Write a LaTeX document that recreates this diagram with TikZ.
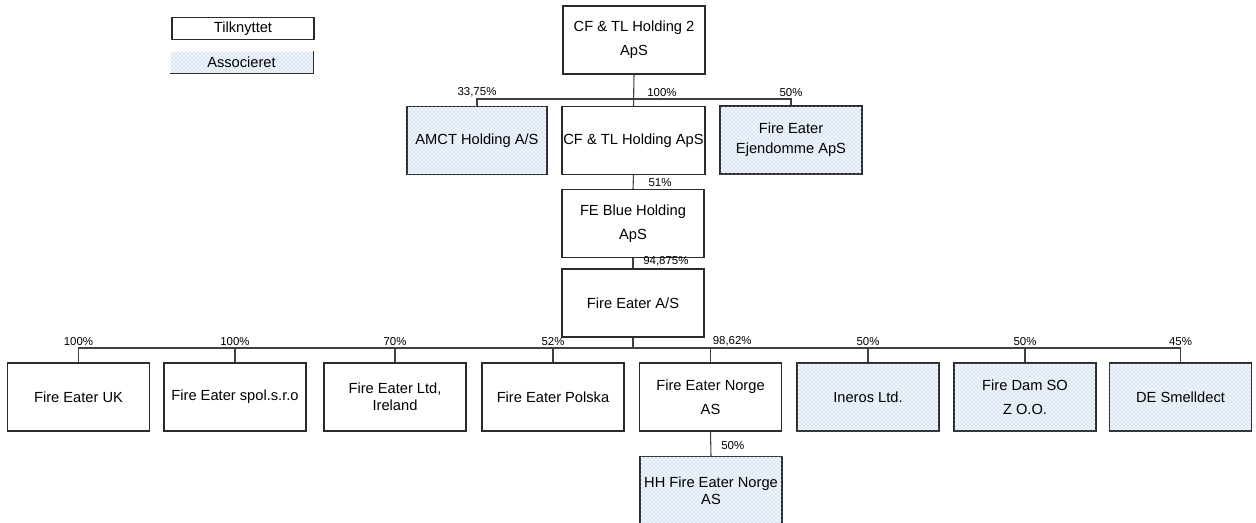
\documentclass[tikz,border=0pt]{standalone}
\usepackage{fontspec}
\setmainfont{Liberation Sans}
\usetikzlibrary{patterns}
\definecolor{BoxLine}{HTML}{2B2B2B}
\definecolor{DotBlue}{HTML}{5E8FCF}
\definecolor{DotFill}{HTML}{F2F6FC}

\begin{document}
\begin{tikzpicture}[
  x=0.75pt, y=-0.75pt,
  firm/.style   = {rectangle, draw=BoxLine, line width=0.9pt, minimum width=106.5pt, minimum height=51pt,
                   align=center, inner sep=1pt, font=\fontsize{11}{13}\selectfont},
  assoc/.style  = {firm, fill=DotFill, postaction={pattern=crosshatch dots, pattern color=DotBlue!70}},
  link/.style   = {draw=black!75, line width=0.8pt},
  pct/.style    = {font=\fontsize{8.6}{10}\selectfont, inner sep=1.5pt}
]
\useasboundingbox (0,0) rectangle (1256,522);

% Legend
\node[firm, minimum height=17pt] (tilk) at (243,28.5) {Tilknyttet};
\node[assoc, draw=none, minimum height=16pt] (asso) at (241.5,62.5) {Associeret};
\draw[BoxLine, line width=0.9pt] (asso.north east) -- (asso.south east) -- (asso.south west);

% Holding chain
\node[firm] (hold2) at (634,40) {CF \& TL Holding 2\\[5pt]ApS};
\node[assoc, minimum width=105pt] (amct) at (477,140.5) {AMCT Holding A/S};
\node[firm] (cftl) at (633.5,140.5) {CF \& TL Holding ApS};
\node[assoc] (ejend) at (791,140) {Fire Eater\\[2pt]Ejendomme ApS};
\node[firm] (feblue) at (633,223.5) {FE Blue Holding\\[5pt]ApS};
\node[firm] (fireas) at (633,303) {Fire Eater A/S};

\coordinate (jtop) at (633,99);
\draw[link] (hold2.south) -- (cftl.north);
\draw[link] (amct.north) |- (jtop) -| (ejend.north);
\node[pct, anchor=south] at (amct.north |- jtop) {33,75\%};
\node[pct, anchor=south west, xshift=9pt] at (jtop) {100\%};
\node[pct, anchor=south] at (ejend.north |- jtop) {50\%};

\draw[link] (cftl.south) -- (feblue.north);
\node[pct, anchor=south west, xshift=10pt] at (feblue.north) {51\%};
\draw[link] (feblue.south) -- (fireas.north);
\node[pct, anchor=south west, xshift=6pt] at (fireas.north) {94,875\%};

% Subsidiaries of Fire Eater A/S
\coordinate (jbot) at (633,348);
\draw[link] (fireas.south) -- (jbot);
\foreach \nm/\cx/\sty/\txt/\pc/\an in {
    feuk/78.5/firm/{Fire Eater UK}/100\%/south,
    fespol/235/firm/{Fire Eater spol.s.r.o}/100\%/south,
    feltd/395/firm/{Fire Eater Ltd,\\Ireland}/70\%/south,
    fepol/553/firm/{Fire Eater Polska}/52\%/south,
    fenorge/710.5/firm/{Fire Eater Norge\\[5pt]AS}/{98,62\%}/south west,
    ineros/868/assoc/{Ineros Ltd.}/50\%/south,
    firedam/1025/assoc/{Fire Dam SO\\[5pt]Z O.O.}/50\%/south,
    desmell/1180.5/assoc/{DE Smelldect}/45\%/south}
{
  \node[\sty] (\nm) at (\cx,397) {\txt};
  \draw[link] (jbot) -| (\nm.north);
  \node[pct, anchor=\an] at (\nm.north |- jbot) {\pc};
}

% Norwegian sub-holding
\node[assoc] (hhnorge) at (711,490.5) {HH Fire Eater Norge\\AS};
\draw[link] (fenorge.south) -- (hhnorge.north);
\node[pct, anchor=south west, xshift=6pt, yshift=3pt] at (hhnorge.north) {50\%};
\end{tikzpicture}
\end{document}
